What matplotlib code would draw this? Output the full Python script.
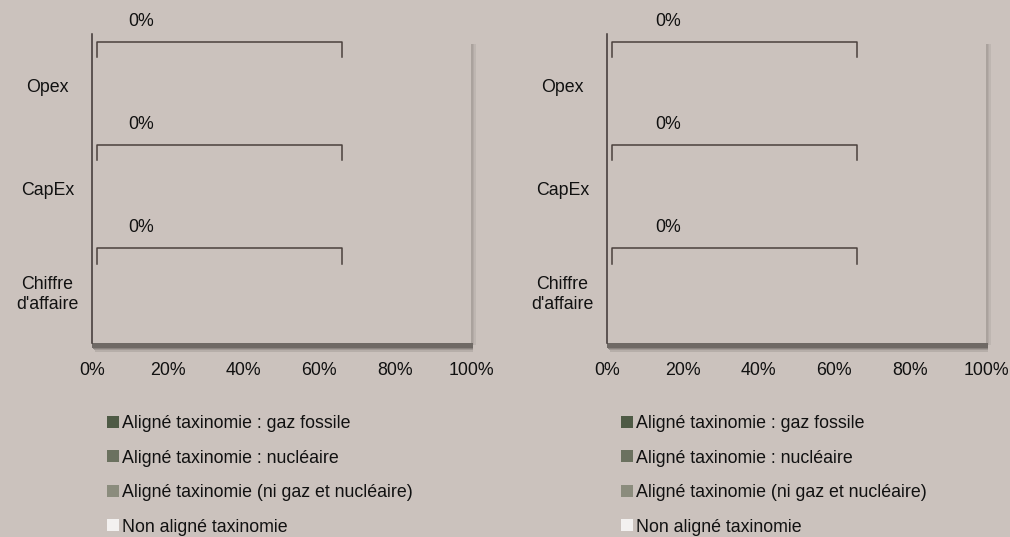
import matplotlib
matplotlib.use("Agg")
import matplotlib.pyplot as plt
from matplotlib.patches import Rectangle

# ---------------- data ----------------
categories = ["Opex", "CapEx", "Chiffre\nd'affaire"]
series_names = [
    "Aligné taxinomie : gaz fossile",
    "Aligné taxinomie : nucléaire",
    "Aligné taxinomie (ni gaz et nucléaire)",
    "Non aligné taxinomie",
]
# left panel (all values read as 0 %)
left_gaz = [0, 0, 0]
left_nucleaire = [0, 0, 0]
left_autre = [0, 0, 0]
left_non_aligne = [0, 0, 0]
left_labels = [0, 0, 0]
# right panel
right_gaz = [0, 0, 0]
right_nucleaire = [0, 0, 0]
right_autre = [0, 0, 0]
right_non_aligne = [0, 0, 0]
right_labels = [0, 0, 0]
x_ticks = [0, 20, 40, 60, 80, 100]

# ---------------- style ----------------
BG = "#cbc2bd"
SPINE = "#3d3533"
TXT = "#111111"
colors = ["#4e5a45", "#6b715f", "#8b8c7d", "#f3f1f0"]
FS = 12.75
plt.rcParams["font.family"] = ["Liberation Sans", "DejaVu Sans"]

W, H = 1010, 537
fig = plt.figure(figsize=(W / 100, H / 100), dpi=100, facecolor=BG)


def px_axes(x0, y0, x1, y1):
    return fig.add_axes([x0 / W, 1 - y1 / H, (x1 - x0) / W, (y1 - y0) / H])


def shadow(x0, y0, x1, y1):
    # right light strip (soft)
    for i, a in enumerate([0.40, 0.28, 0.15]):
        fig.add_artist(Rectangle(((x1 + i * 1.5) / W, 1 - (y1 + 2) / H), 1.6 / W, (y1 + 2 - (y0 + 10)) / H,
                                 transform=fig.transFigure, facecolor="#7a726e", alpha=a,
                                 edgecolor="none", zorder=-1))
    # bottom dark strip (soft lower edge)
    fig.add_artist(Rectangle((x0 / W, 1 - (y1 + 5) / H), (x1 + 2 - x0) / W, 5 / H,
                             transform=fig.transFigure, facecolor="#6f6965",
                             edgecolor="none", zorder=-1))
    for i, a in enumerate([0.7, 0.45, 0.22]):
        fig.add_artist(Rectangle(((x0 + 1 + i) / W, 1 - (y1 + 6 + i * 1.3) / H), (x1 + 1 - x0 - i) / W, 1.4 / H,
                                 transform=fig.transFigure, facecolor="#6f6965", alpha=a,
                                 edgecolor="none", zorder=-1))


def panel(box, vals, labels, label_x, legend_x):
    x0, y0, x1, y1 = box
    shadow(x0, y0, x1, y1)
    ax = px_axes(*box)
    ax.set_facecolor(BG)
    ypos = list(range(len(categories)))
    left = [0] * len(categories)
    handles = []
    for name, v, c in zip(series_names, vals, colors):
        bars = ax.barh(ypos, v, left=left, color=c, height=0.5, label=name)
        handles.append(bars)
        left = [a + b for a, b in zip(left, v)]
    ax.set_xlim(0, 100)
    ax.set_ylim(len(categories) - 0.5, -0.5)
    ax.set_xticks(x_ticks)
    ax.set_xticklabels([f"{t}%" for t in x_ticks], fontsize=FS, color=TXT)
    ax.set_yticks(ypos)
    ax.set_yticklabels(categories, fontsize=FS, color=TXT, ha="center", multialignment="center")
    ax.tick_params(axis="x", length=0, pad=14)
    ax.tick_params(axis="y", length=0, pad=32)
    for s in ["top", "right", "bottom"]:
        ax.spines[s].set_visible(False)
    ax.spines["left"].set_color(SPINE)
    ax.spines["left"].set_linewidth(1.1)
    # bracket data-label callouts
    for i, lab in enumerate(labels):
        yb, yt = i - 0.42, i - 0.27
        ax.plot([1.2, 1.2, 66, 66], [yt, yb, yb, yt], color="#4a403d", lw=1.1,
                clip_on=False, solid_joinstyle="round")
        ax.text(label_x, i - 0.615, f"{lab:.0f}%", ha="center", va="center",
                fontsize=FS, color=TXT, clip_on=False)
    fig.legend(handles=handles, labels=series_names, loc="upper left",
               bbox_to_anchor=(legend_x / W, 1 - 415 / H), frameon=False,
               fontsize=FS, handlelength=0.65, handleheight=0.65, handletextpad=0.2,
               labelspacing=0.99, borderpad=0, borderaxespad=0, labelcolor=TXT)
    return ax


panel((92, 33.5, 471, 343),
      [left_gaz, left_nucleaire, left_autre, left_non_aligne], left_labels, 13, 107)
panel((607, 33.5, 986, 343),
      [right_gaz, right_nucleaire, right_autre, right_non_aligne], right_labels, 16, 621)

fig.savefig("out.png", dpi=100, facecolor=BG)
